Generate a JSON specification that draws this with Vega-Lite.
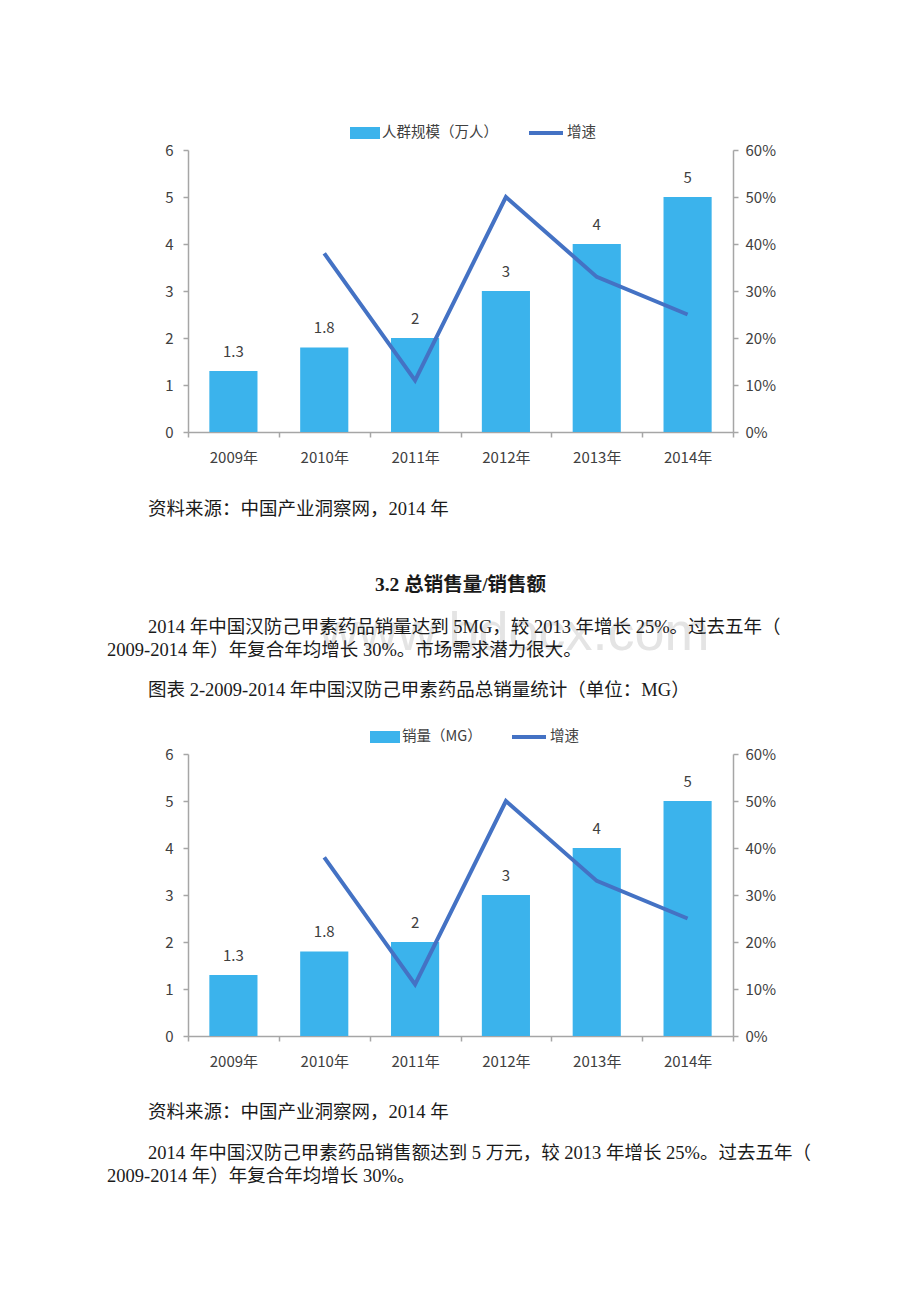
{
  "$schema": "https://vega.github.io/schema/vega-lite/v6.json",
  "background": "white",
  "padding": {"left": 107, "top": 114, "right": 10, "bottom": 0},
  "config": {"font": "Noto Sans CJK SC", "view": {"stroke": null}},
  "bounds": "flush",
  "spacing": 0,
  "resolve": {"scale": {"fill": "independent", "stroke": "independent"}, "legend": {"fill": "independent", "stroke": "independent"}},
  "vconcat": [
    {
      "width": 545,
      "height": 282,
      "data": {"values": [
        {"year": "2009年", "value": 1.3, "growth": null},
        {"year": "2010年", "value": 1.8, "growth": 0.38},
        {"year": "2011年", "value": 2, "growth": 0.11},
        {"year": "2012年", "value": 3, "growth": 0.5},
        {"year": "2013年", "value": 4, "growth": 0.33},
        {"year": "2014年", "value": 5, "growth": 0.25}
      ]},
      "encoding": {
        "x": {"field": "year", "type": "nominal", "sort": null,
          "scale": {"paddingInner": 0, "paddingOuter": 0},
          "axis": {"title": null, "labelAngle": 0, "tickBand": "extent", "tickSize": 5, "labelPadding": 13, "labelFontSize": 15, "labelColor": "#404040", "domainColor": "#a6a6a6", "tickColor": "#a6a6a6", "domainWidth": 1.5, "tickWidth": 1.5}}
      },
      "layer": [
        {"layer": [
          {"mark": {"type": "bar", "width": {"band": 0.53}},
           "encoding": {
             "y": {"field": "value", "type": "quantitative", "scale": {"domain": [0, 6], "nice": false},
               "axis": {"title": null, "values": [0, 1, 2, 3, 4, 5, 6], "grid": false, "tickSize": 5, "labelPadding": 10, "labelFontSize": 15, "labelColor": "#404040", "domainColor": "#a6a6a6", "tickColor": "#a6a6a6", "domainWidth": 1.5, "tickWidth": 1.5}},
             "fill": {"datum": "人群规模（万人）", "type": "nominal", "scale": {"range": ["#3BB3EC"]},
               "legend": {"orient": "none", "legendX": 162, "legendY": -32, "title": null, "symbolType": "M-1,-0.4H1V0.4H-1Z", "symbolSize": 900, "symbolStrokeWidth": 0, "labelFontSize": 14.5, "labelColor": "#404040", "labelOffset": 2}}
           }},
          {"mark": {"type": "text", "dy": -19, "fontSize": 15, "color": "#404040"},
           "encoding": {
             "y": {"field": "value", "type": "quantitative"},
             "text": {"field": "value", "type": "nominal"}
           }}
        ]},
        {"mark": {"type": "line", "strokeWidth": 4},
         "encoding": {
           "y": {"field": "growth", "type": "quantitative", "scale": {"domain": [0, 0.6], "nice": false},
             "axis": {"orient": "right", "title": null, "values": [0, 0.1, 0.2, 0.3, 0.4, 0.5, 0.6], "format": ".0%", "grid": false, "tickSize": 5, "labelPadding": 7, "labelFontSize": 15, "labelColor": "#404040", "domainColor": "#a6a6a6", "tickColor": "#a6a6a6", "domainWidth": 1.5, "tickWidth": 1.5}},
           "stroke": {"datum": "增速", "type": "nominal", "scale": {"range": ["#4472C4"]},
             "legend": {"orient": "none", "legendX": 339, "legendY": -36, "title": null, "symbolType": "stroke", "symbolSize": 1156, "symbolStrokeWidth": 4, "labelFontSize": 14.5, "labelColor": "#404040", "labelOffset": 2}}
         }}
      ],
      "resolve": {"scale": {"y": "independent"}}
    },
    {
      "width": 545,
      "height": 322,
      "data": {"values": [
        {"part": "watermark", "text": "www.bdocx.com"},
        {"part": "source", "text": "资料来源：中国产业洞察网，2014 年"},
        {"part": "heading", "text": "3.2 总销售量/销售额"},
        {"part": "para1", "text": "2014 年中国汉防己甲素药品销量达到 5MG，较 2013 年增长 25%。过去五年（"},
        {"part": "para2", "text": "2009-2014 年）年复合年均增长 30%。市场需求潜力很大。"},
        {"part": "caption", "text": "图表 2-2009-2014 年中国汉防己甲素药品总销量统计（单位：MG）"}
      ]},
      "layer": [
        {"transform": [{"filter": "datum.part === 'watermark'"}],
         "mark": {"type": "text", "font": "Liberation Sans", "fontSize": 54, "color": "#e4e4e4", "dx": 54, "dy": 41},
         "encoding": {"text": {"field": "text", "type": "nominal"}}},
        {"transform": [{"filter": "datum.part === 'source'"}],
         "mark": {"type": "text", "font": "Liberation Serif, Noto Sans CJK SC", "fontSize": 18.5, "color": "#1a1a1a", "align": "left", "dx": -312.5, "dy": -84},
         "encoding": {"text": {"field": "text", "type": "nominal"}}},
        {"transform": [{"filter": "datum.part === 'heading'"}],
         "mark": {"type": "text", "font": "Liberation Serif, Noto Sans CJK SC", "fontSize": 19.5, "fontWeight": "bold", "color": "#1a1a1a", "align": "center", "dx": 0, "dy": -8},
         "encoding": {"text": {"field": "text", "type": "nominal"}}},
        {"transform": [{"filter": "datum.part === 'para1'"}],
         "mark": {"type": "text", "font": "Liberation Serif, Noto Sans CJK SC", "fontSize": 18.5, "color": "#1a1a1a", "align": "left", "dx": -312.5, "dy": 34},
         "encoding": {"text": {"field": "text", "type": "nominal"}}},
        {"transform": [{"filter": "datum.part === 'para2'"}],
         "mark": {"type": "text", "font": "Liberation Serif, Noto Sans CJK SC", "fontSize": 18.5, "color": "#1a1a1a", "align": "left", "dx": -353.5, "dy": 57},
         "encoding": {"text": {"field": "text", "type": "nominal"}}},
        {"transform": [{"filter": "datum.part === 'caption'"}],
         "mark": {"type": "text", "font": "Liberation Serif, Noto Sans CJK SC", "fontSize": 18.5, "color": "#1a1a1a", "align": "left", "dx": -312.5, "dy": 97},
         "encoding": {"text": {"field": "text", "type": "nominal"}}}
      ]
    },
    {
      "width": 545,
      "height": 282,
      "data": {"values": [
        {"year": "2009年", "value": 1.3, "growth": null},
        {"year": "2010年", "value": 1.8, "growth": 0.38},
        {"year": "2011年", "value": 2, "growth": 0.11},
        {"year": "2012年", "value": 3, "growth": 0.5},
        {"year": "2013年", "value": 4, "growth": 0.33},
        {"year": "2014年", "value": 5, "growth": 0.25}
      ]},
      "encoding": {
        "x": {"field": "year", "type": "nominal", "sort": null,
          "scale": {"paddingInner": 0, "paddingOuter": 0},
          "axis": {"title": null, "labelAngle": 0, "tickBand": "extent", "tickSize": 5, "labelPadding": 13, "labelFontSize": 15, "labelColor": "#404040", "domainColor": "#a6a6a6", "tickColor": "#a6a6a6", "domainWidth": 1.5, "tickWidth": 1.5}}
      },
      "layer": [
        {"layer": [
          {"mark": {"type": "bar", "width": {"band": 0.53}},
           "encoding": {
             "y": {"field": "value", "type": "quantitative", "scale": {"domain": [0, 6], "nice": false},
               "axis": {"title": null, "values": [0, 1, 2, 3, 4, 5, 6], "grid": false, "tickSize": 5, "labelPadding": 10, "labelFontSize": 15, "labelColor": "#404040", "domainColor": "#a6a6a6", "tickColor": "#a6a6a6", "domainWidth": 1.5, "tickWidth": 1.5}},
             "fill": {"datum": "销量（MG）", "type": "nominal", "scale": {"range": ["#3BB3EC"]},
               "legend": {"orient": "none", "legendX": 182, "legendY": -32, "title": null, "symbolType": "M-1,-0.4H1V0.4H-1Z", "symbolSize": 900, "symbolStrokeWidth": 0, "labelFontSize": 14.5, "labelColor": "#404040", "labelOffset": 2}}
           }},
          {"mark": {"type": "text", "dy": -19, "fontSize": 15, "color": "#404040"},
           "encoding": {
             "y": {"field": "value", "type": "quantitative"},
             "text": {"field": "value", "type": "nominal"}
           }}
        ]},
        {"mark": {"type": "line", "strokeWidth": 4},
         "encoding": {
           "y": {"field": "growth", "type": "quantitative", "scale": {"domain": [0, 0.6], "nice": false},
             "axis": {"orient": "right", "title": null, "values": [0, 0.1, 0.2, 0.3, 0.4, 0.5, 0.6], "format": ".0%", "grid": false, "tickSize": 5, "labelPadding": 7, "labelFontSize": 15, "labelColor": "#404040", "domainColor": "#a6a6a6", "tickColor": "#a6a6a6", "domainWidth": 1.5, "tickWidth": 1.5}},
           "stroke": {"datum": "增速", "type": "nominal", "scale": {"range": ["#4472C4"]},
             "legend": {"orient": "none", "legendX": 322, "legendY": -36, "title": null, "symbolType": "stroke", "symbolSize": 1156, "symbolStrokeWidth": 4, "labelFontSize": 14.5, "labelColor": "#404040", "labelOffset": 2}}
         }}
      ],
      "resolve": {"scale": {"y": "independent"}}
    },
    {
      "width": 545,
      "height": 200,
      "data": {"values": [
        {"part": "source", "text": "资料来源：中国产业洞察网，2014 年"},
        {"part": "para1", "text": "2014 年中国汉防己甲素药品销售额达到 5 万元，较 2013 年增长 25%。过去五年（"},
        {"part": "para2", "text": "2009-2014 年）年复合年均增长 30%。"}
      ]},
      "layer": [
        {"transform": [{"filter": "datum.part === 'source'"}],
         "mark": {"type": "text", "font": "Liberation Serif, Noto Sans CJK SC", "fontSize": 18.5, "color": "#1a1a1a", "align": "left", "dx": -312.5, "dy": -24},
         "encoding": {"text": {"field": "text", "type": "nominal"}}},
        {"transform": [{"filter": "datum.part === 'para1'"}],
         "mark": {"type": "text", "font": "Liberation Serif, Noto Sans CJK SC", "fontSize": 18.5, "color": "#1a1a1a", "align": "left", "dx": -312.5, "dy": 17},
         "encoding": {"text": {"field": "text", "type": "nominal"}}},
        {"transform": [{"filter": "datum.part === 'para2'"}],
         "mark": {"type": "text", "font": "Liberation Serif, Noto Sans CJK SC", "fontSize": 18.5, "color": "#1a1a1a", "align": "left", "dx": -353.5, "dy": 40},
         "encoding": {"text": {"field": "text", "type": "nominal"}}}
      ]
    }
  ]
}
